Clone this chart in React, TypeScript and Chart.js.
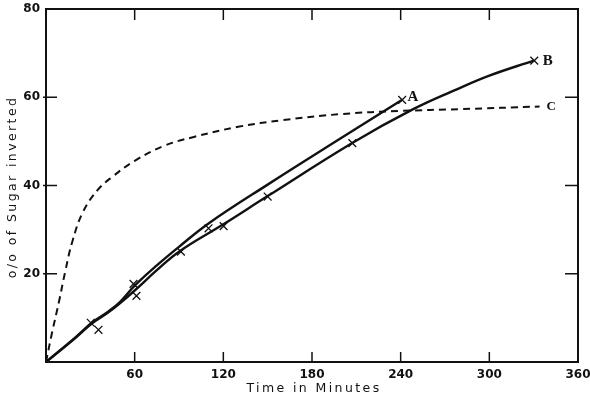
import React, { useEffect, useRef } from 'react';
import { Chart, registerables } from 'chart.js';

Chart.register(...registerables);

// Curve A (upper solid line)
const curveAX = [0, 20, 31, 42, 50, 60, 75, 90, 110, 150, 200, 240.5];
const curveAY = [0, 5.6, 8.9, 11.4, 13.6, 17.3, 21.9, 26.1, 31.4, 40.2, 50.8, 59.3];
// Curve B (lower solid line)
const curveBX = [0, 20, 31, 42, 50, 60, 75, 90, 120, 150, 207.5, 248.5, 278, 300, 330];
const curveBY = [0, 5.5, 8.7, 11.2, 13.3, 16.2, 20.8, 25, 31.2, 37.6, 49.7, 57.3, 61.8, 64.9, 68.3];
// Curve C (dashed line)
const curveCX = [0, 4, 9, 13, 18, 25, 35, 45, 60, 80, 100, 130, 160, 200, 240, 280, 334];
const curveCY = [0, 6.5, 14, 20.5, 27.5, 34, 39, 42, 45.6, 49, 51, 53.3, 54.8, 56.2, 56.9, 57.3, 57.9];
// Observed points (x marks)
const obsX = [30.3, 35.5, 59.2, 61.2, 91.3, 110, 120.2, 150, 207.3, 241, 330.4];
const obsY = [8.9, 7.3, 17.7, 15, 25, 30.3, 30.8, 37.5, 49.6, 59.4, 68.3];

const xTicks = [60, 120, 180, 240, 300, 360];
const yTicks = [20, 40, 60, 80];
const curveLabels = ['A', 'B', 'C'];
const xTitle = 'Time in Minutes';
const yTitle = 'o/o of Sugar inverted';

const toPts = (xs: number[], ys: number[]) => xs.map((x, i) => ({ x, y: ys[i] }));

export default function App() {
  const ref = useRef<HTMLCanvasElement | null>(null);

  useEffect(() => {
    document.body.style.margin = '0';
    const canvas = ref.current;
    if (!canvas) return;

    const decorPlugin = {
      id: 'decor',
      afterDatasetsDraw(chart: any) {
        const { ctx, chartArea: a, scales } = chart;
        const x = scales.x;
        const y = scales.y;
        ctx.save();
        ctx.strokeStyle = '#111';
        ctx.lineWidth = 2;
        ctx.strokeRect(a.left, a.top, a.right - a.left, a.bottom - a.top);
        ctx.lineWidth = 1.5;
        ctx.beginPath();
        xTicks.forEach((v) => {
          if (v >= 360) return;
          const px = x.getPixelForValue(v);
          ctx.moveTo(px, a.bottom);
          ctx.lineTo(px, a.bottom - 10);
          ctx.moveTo(px, a.top);
          ctx.lineTo(px, a.top + 11);
        });
        yTicks.forEach((v) => {
          if (v >= 80) return;
          const py = y.getPixelForValue(v);
          ctx.moveTo(a.left - 3, py);
          ctx.lineTo(a.left + 11, py);
          ctx.moveTo(a.right, py);
          ctx.lineTo(a.right - 13, py);
        });
        ctx.stroke();

        // curve end labels
        ctx.fillStyle = '#111';
        ctx.textBaseline = 'middle';
        ctx.textAlign = 'left';
        const ends = [
          { xs: curveAX, ys: curveAY, dx: 6, dy: -3, size: 15 },
          { xs: curveBX, ys: curveBY, dx: 9, dy: 0, size: 15 },
          { xs: curveCX, ys: curveCY, dx: 7, dy: 0, size: 13 },
        ];
        ends.forEach((e, i) => {
          const n = e.xs.length - 1;
          const px = x.getPixelForValue(e.xs[n]);
          const py = y.getPixelForValue(e.ys[n]);
          ctx.font = `bold ${e.size}px "Liberation Serif", "DejaVu Serif", serif`;
          ctx.fillText(curveLabels[i], px + e.dx, py + e.dy);
        });

        // axis titles
        ctx.font = '12.5px "DejaVu Sans", sans-serif';
        (ctx as any).letterSpacing = '2.4px';
        ctx.textAlign = 'center';
        ctx.textBaseline = 'middle';
        ctx.fillText(xTitle, 314, 389);
        ctx.translate(12.5, 187);
        ctx.rotate(-Math.PI / 2);
        ctx.fillText(yTitle, 0, 0);
        ctx.restore();
      },
    };

    const lineBase = {
      borderColor: '#111',
      pointRadius: 0,
      fill: false,
      tension: 0.4,
    };

    const noPad = (s: any) => {
      s.paddingTop = 0;
      s.paddingBottom = 0;
      s.paddingLeft = 0;
      s.paddingRight = 0;
    };

    const chart = new Chart(canvas, {
      type: 'line',
      data: {
        datasets: [
          { ...lineBase, label: 'A', data: toPts(curveAX, curveAY), borderWidth: 2.4 },
          { ...lineBase, label: 'B', data: toPts(curveBX, curveBY), borderWidth: 2.4 },
          { ...lineBase, label: 'C', data: toPts(curveCX, curveCY), borderWidth: 2, borderDash: [7, 5] },
          {
            label: 'observed',
            data: toPts(obsX, obsY),
            showLine: false,
            borderColor: '#111',
            backgroundColor: '#111',
            pointStyle: 'crossRot',
            pointRadius: 5.5,
            pointBorderWidth: 1.3,
          } as any,
        ],
      },
      options: {
        animation: false,
        responsive: false,
        maintainAspectRatio: false,
        layout: { padding: { top: 9, right: 12, left: 0, bottom: 0 } },
        plugins: {
          legend: { display: false },
          tooltip: { enabled: false },
          title: { display: false },
        },
        scales: {
          x: {
            type: 'linear',
            min: 0,
            max: 360,
            grid: { display: false, drawTicks: false },
            border: { display: false },
            afterBuildTicks: (s: any) => {
              s.ticks = xTicks.map((v) => ({ value: v }));
            },
            afterFit: (s: any) => {
              s.height = 37;
              noPad(s);
            },
            ticks: {
              padding: 6,
              maxRotation: 0,
              autoSkip: false,
              color: '#111',
              font: { family: '"DejaVu Sans", sans-serif', size: 12, weight: 'bold' },
            },
          },
          y: {
            type: 'linear',
            min: 0,
            max: 80,
            grid: { display: false, drawTicks: false },
            border: { display: false },
            afterBuildTicks: (s: any) => {
              s.ticks = yTicks.map((v) => ({ value: v }));
            },
            afterFit: (s: any) => {
              s.width = 46;
              noPad(s);
            },
            ticks: {
              padding: 6,
              autoSkip: false,
              color: '#111',
              font: { family: '"DejaVu Sans", sans-serif', size: 12, weight: 'bold' },
            },
          },
        },
      },
      plugins: [decorPlugin],
    } as any);

    return () => chart.destroy();
  }, []);

  return (
    <div style={{ position: 'absolute', left: 0, top: 0, width: 590, height: 399, background: '#fff' }}>
      <canvas ref={ref} width={590} height={399} style={{ display: 'block', width: 590, height: 399 }} />
    </div>
  );
}
